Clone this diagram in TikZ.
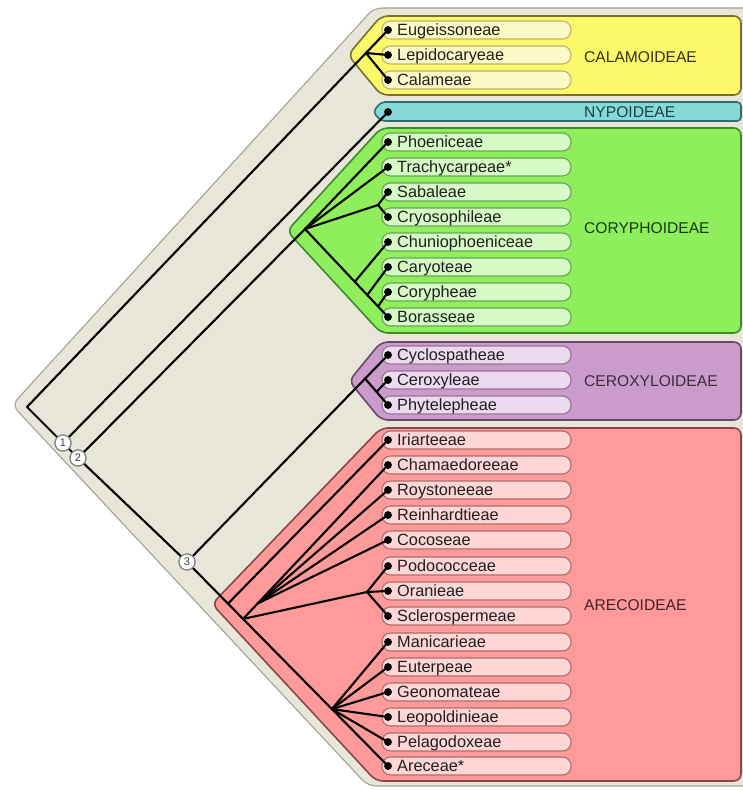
\documentclass[tikz,border=0pt]{standalone}
\usepackage{fontspec}
\setmainfont{Liberation Sans}
\usetikzlibrary{calc}
\definecolor{beige}{HTML}{E8E6D9}
\definecolor{beigeline}{HTML}{A3A293}
\definecolor{yfill}{HTML}{FDF76A}
\definecolor{yline}{HTML}{77702E}
\definecolor{ypill}{HTML}{FDFAC8}
\definecolor{ypillline}{HTML}{BDB36A}
\definecolor{cfill}{HTML}{86D9D9}
\definecolor{cline}{HTML}{2E6C6E}
\definecolor{gfill}{HTML}{8EEE5C}
\definecolor{gline}{HTML}{3C8A2C}
\definecolor{gpill}{HTML}{D6FAC6}
\definecolor{gpillline}{HTML}{68A456}
\definecolor{pfill}{HTML}{CB9BCB}
\definecolor{pline}{HTML}{6A4868}
\definecolor{ppill}{HTML}{EEDAEE}
\definecolor{ppillline}{HTML}{967494}
\definecolor{rfill}{HTML}{FF9A9A}
\definecolor{rline}{HTML}{8A4646}
\definecolor{rpill}{HTML}{FFD6D6}
\definecolor{rpillline}{HTML}{AE6C6C}
\tikzset{
  family/.style={draw=#1line, fill=#1fill, line width=1.6pt, rounded corners=7pt},
  pill/.style={draw=#1pillline, fill=#1pill, line width=1.1pt, rounded corners=8.5pt,
    minimum width=189pt, minimum height=18pt, inner sep=0pt},
  tdot/.style={circle, fill=black, inner sep=0pt, minimum size=7.5pt},
  tribe/.style={anchor=base west, font=\fontsize{16.3}{17}\selectfont, text=black!88, inner sep=0pt},
  sublabel/.style={anchor=west, font=\fontsize{15.6}{16}\selectfont, inner sep=0pt},
  tree/.style={draw=black, line width=2.1pt, line cap=round, line join=round},
  numc/.style={circle, draw=black!50, fill=white, line width=1.1pt, minimum size=16pt,
    inner sep=0pt, font=\fontsize{11}{11}\selectfont, text=black!75},
}
\begin{document}
\begin{tikzpicture}[x=1pt,y=-1pt]
\useasboundingbox (0,0) rectangle (743,790);
\fill[white] (0,0) rectangle (743,790);
% background
\draw[draw=beigeline, fill=beige, line width=1.1pt, rounded corners=8pt]
  (12,405) -- (374,8) -- (760,8) -- (760,786) -- (368,786) -- cycle;
% subfamily shapes
\draw[family=y] (348,55) -- (381,16) -- (741,16) -- (741,95) -- (381,95) -- cycle;
\draw[family=c, rounded corners=4pt] (373,112) -- (381,102) -- (741,102) -- (741,121) -- (381,121) -- cycle;
\draw[family=g] (287,231) -- (381,128) -- (741,128) -- (741,333) -- (381,333) -- cycle;
\draw[family=p] (349,381) -- (381,342) -- (741,342) -- (741,420) -- (381,420) -- cycle;
\draw[family=r] (212,604) -- (381,428) -- (741,428) -- (741,781) -- (376,781) -- cycle;
% tribe pills, dots, labels
\foreach \n/\y/\t/\c in {
  eug/30/Eugeissoneae/y, lep/55/Lepidocaryeae/y, cal/80/Calameae/y,
  pho/142/Phoeniceae/g, tra/167/Trachycarpeae*/g, sab/192/Sabaleae/g, cry/217/Cryosophileae/g,
  chu/242/Chuniophoeniceae/g, car/267/Caryoteae/g, cor/292/Corypheae/g, bor/317/Borasseae/g,
  cyc/355/Cyclospatheae/p, cer/380/Ceroxyleae/p, phy/405/Phytelepheae/p,
  iri/440/Iriarteeae/r, cha/465/Chamaedoreeae/r, roy/490/Roystoneeae/r, rei/515/Reinhardtieae/r,
  coc/540/Cocoseae/r, pod/566/Podococceae/r, ora/591/Oranieae/r, scl/616/Sclerospermeae/r,
  man/642/Manicarieae/r, eut/667/Euterpeae/r, geo/692/Geonomateae/r, leo/717/Leopoldinieae/r,
  pel/742/Pelagodoxeae/r, are/766/Areceae*/r}{
  \node[pill=\c] (p\n) at (476.5,\y) {};
  \node[tdot] (\n) at (388,\y) {};
  \node[tribe] (l\n) at (397,\y+5.8) {\t};
}
\node[tdot] (nyp) at (388,112) {};
% subfamily labels
\node[sublabel, text=yline!45!black] (sCal) at (584,57) {CALAMOIDEAE};
\node[sublabel, text=cline!60!black] (sNyp) at (584,112) {NYPOIDEAE};
\node[sublabel, text=gline!40!black] (sCor) at (584,228) {CORYPHOIDEAE};
\node[sublabel, text=pline!60!black] (sCer) at (584,381) {CEROXYLOIDEAE};
\node[sublabel, text=rline!50!black] (sAre) at (584,605) {ARECOIDEAE};
% numbered nodes
\node[numc] (n1) at (63,443) {1};
\node[numc] (n2) at (78,458) {2};
\node[numc] (n3) at (187,562) {3};
% tree
\coordinate (R) at (27,407);
\draw[tree] (n1) -- (R) -- (eug.center);
\coordinate (J1) at ($(R)!0.939!(eug.center)$);
\draw[tree] (J1) -- (lep.center);
\draw[tree] (J1) -- (cal.center);
\draw[tree] (n1) -- (nyp.center);
\draw[tree] (n1) -- (n2);
\draw[tree] (n2) -- (n3);
% Coryphoideae
\coordinate (Jc) at (305,229);
\coordinate (Js) at (378,205);
\draw[tree] (n2) -- (Jc);
\draw[tree] (Jc) -- (pho.center);
\draw[tree] (Jc) -- (tra.center);
\draw[tree] (Jc) -- (Js);
\draw[tree] (Js) -- (sab.center);
\draw[tree] (Js) -- (cry.center);
\draw[tree] (Jc) -- (bor.center);
\coordinate (Jchu) at ($(Jc)!0.6!(bor.center)$);
\coordinate (Jcar) at ($(Jc)!0.75!(bor.center)$);
\coordinate (Jcor) at ($(Jc)!0.88!(bor.center)$);
\draw[tree] (Jchu) -- (chu.center);
\draw[tree] (Jcar) -- (car.center);
\draw[tree] (Jcor) -- (cor.center);
% Ceroxyloideae
\draw[tree] (n3) -- (cyc.center);
\coordinate (J3) at ($(n3)!0.886!(cyc.center)$);
\draw[tree] (J3) -- (phy.center);
\coordinate (Jcer) at ($(J3)!0.5!(phy.center)$);
\draw[tree] (Jcer) -- (cer.center);
% Arecoideae
\draw[tree] (n3) -- (are.center);
\coordinate (Jiri) at ($(n3)!0.204!(are.center)$);
\coordinate (JA) at ($(n3)!0.279!(are.center)$);
\coordinate (Jm) at ($(n3)!0.721!(are.center)$);
\draw[tree] (Jiri) -- (iri.center);
\draw[tree] (JA) -- (cha.center);
\coordinate (F) at ($(JA)!0.1!(cha.center)$);
\draw[tree] (F) -- (roy.center);
\draw[tree] (F) -- (rei.center);
\draw[tree] (F) -- (coc.center);
\coordinate (Jp) at (367,592);
\draw[tree] (JA) -- (Jp);
\draw[tree] (Jp) -- (pod.center);
\draw[tree] (Jp) -- (ora.center);
\draw[tree] (Jp) -- (scl.center);
\foreach \n in {man,eut,geo,leo,pel}{\draw[tree] (Jm) -- (\n.center);}
% dots and circles on top
\foreach \n in {eug,lep,cal,nyp,pho,tra,sab,cry,chu,car,cor,bor,cyc,cer,phy,iri,cha,roy,rei,coc,pod,ora,scl,man,eut,geo,leo,pel,are}{
  \fill[black] (\n.center) circle (3.75pt);}
\node[numc] (m1) at (n1) {1};
\node[numc] (m2) at (n2) {2};
\node[numc] (m3) at (n3) {3};
\end{tikzpicture}
\end{document}
